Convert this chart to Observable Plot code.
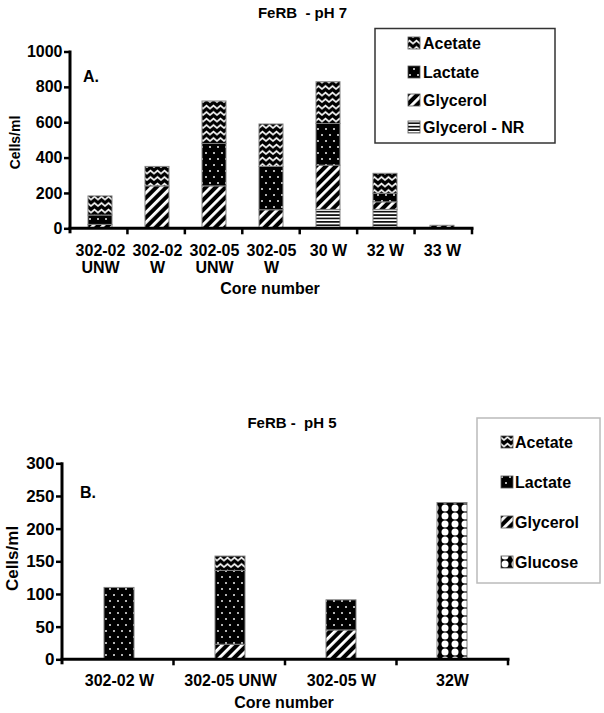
<!DOCTYPE html>
<html><head><meta charset="utf-8">
<script src="https://cdn.jsdelivr.net/npm/d3@7"></script>
<script src="https://cdn.jsdelivr.net/npm/@observablehq/plot@0.6"></script>
<style>
body{margin:0;background:#fff;}
#wrap{position:relative;width:604px;height:713px;overflow:hidden;background:#fff;}
#wrap svg.layer{position:absolute;left:0;}
</style></head><body><div id="wrap"></div>
<script>
// ---------- data: panel A (pH 7) ----------
const coresA = ["302-02 UNW","302-02 W","302-05 UNW","302-05 W","30 W","32 W","33 W"];
const tickLabelsA = ["302-02\nUNW","302-02\nW","302-05\nUNW","302-05\nW","30 W","32 W","33 W"];
const glycerolNRA = [0,0,0,0,107,107,0];
const glycerolA   = [22,240,240,105,250,43,17];
const lactateA    = [53,0,240,245,236,48,0];
const acetateA    = [108,110,240,240,236,113,0];
const yTicksA = [0,200,400,600,800,1000];
const legendA = ["Acetate","Lactate","Glycerol","Glycerol - NR"];

// ---------- data: panel B (pH 5) ----------
const coresB = ["302-02 W","302-05 UNW","302-05 W","32W"];
const glycerolB = [0,23,45,0];
const lactateB  = [110,113,46,0];
const acetateB  = [0,22,0,0];
const glucoseB  = [0,0,0,240];
const yTicksB = [0,50,100,150,200,250,300];
const legendB = ["Acetate","Lactate","Glycerol","Glucose"];

const seriesNames = ["Glycerol - NR","Glycerol","Lactate","Acetate","Glucose"];
const patternIds = {"Glycerol - NR":"p-nr","Glycerol":"p-glycerol","Lactate":"p-lactate","Acetate":"p-acetate","Glucose":"p-glucose"};
const FONT = "'Liberation Sans', Arial, Helvetica, sans-serif";

function rows(cores, series) {
  const out = [];
  for (const [name, vals] of series) cores.forEach((c, i) => { if (vals[i] > 0) out.push({core: c, series: name, value: vals[i]}); });
  return out;
}
const rowsA = rows(coresA, [["Glycerol - NR", glycerolNRA], ["Glycerol", glycerolA], ["Lactate", lactateA], ["Acetate", acetateA]]);
const rowsB = rows(coresB, [["Glycerol", glycerolB], ["Lactate", lactateB], ["Acetate", acetateB], ["Glucose", glucoseB]]);

const wrap = document.getElementById("wrap");

// ---------- fill patterns ----------
const defsSvg = `<svg width="0" height="0" style="position:absolute;left:0;top:0">
<defs>
<pattern id="p-acetate" patternUnits="userSpaceOnUse" width="7" height="6.5">
  <rect width="7" height="6.5" fill="#000"/>
  <polyline points="-3.5,1.6 0,4.6 3.5,1.6 7,4.6 10.5,1.6" fill="none" stroke="#fff" stroke-width="1.6"/>
</pattern>
<pattern id="p-lactate" patternUnits="userSpaceOnUse" width="8" height="12">
  <rect width="8" height="12" fill="#000"/>
  <circle cx="2" cy="3" r="1" fill="#eee"/>
  <circle cx="6" cy="9" r="1" fill="#eee"/>
</pattern>
<pattern id="p-glycerol" patternUnits="userSpaceOnUse" width="7" height="7" patternTransform="rotate(45)">
  <rect width="7" height="7" fill="#000"/>
  <rect width="2.9" height="7" fill="#fff"/>
</pattern>
<pattern id="p-nr" patternUnits="userSpaceOnUse" width="4" height="3.4">
  <rect width="4" height="3.4" fill="#fff"/>
  <rect width="4" height="1.7" fill="#111"/>
</pattern>
<pattern id="p-glucose" patternUnits="userSpaceOnUse" width="10" height="8">
  <rect width="10" height="8" fill="#000"/>
  <circle cx="5" cy="4" r="3.5" fill="#fff"/>
</pattern>
</defs></svg>`;
wrap.insertAdjacentHTML("beforeend", defsSvg);

// axis lines + boundary ticks drawn from the plot's own scales/dimensions
function axisFrame(nCats) {
  return (index, scales, values, dims) => {
    const y = scales.y;
    const x0 = dims.marginLeft, x1 = dims.width - dims.marginRight;
    const y0 = y(0), yTop = dims.marginTop;
    const g = d3.create("svg:g").attr("stroke", "#000").attr("fill", "none");
    g.append("line").attr("x1", x0).attr("x2", x0).attr("y1", yTop - 1).attr("y2", y0 + 5).attr("stroke-width", 3);
    g.append("line").attr("x1", x0 - 1.5).attr("x2", x1 + 1.5).attr("y1", y0).attr("y2", y0).attr("stroke-width", 3);
    const step = (x1 - x0) / nCats;
    for (let i = 1; i <= nCats; i++) {
      g.append("line").attr("x1", x0 + i * step).attr("x2", x0 + i * step).attr("y1", y0).attr("y2", y0 + 6).attr("stroke-width", 2.5);
    }
    return g.node();
  };
}

function panel({cores, labels, data, yDomain, yTicks, top, height, ml, mr, mt, mb, pad, yFont, xPad}) {
  const p = Plot.plot({
    width: 604, height, marginLeft: ml, marginRight: mr, marginTop: mt, marginBottom: mb,
    style: {fontFamily: FONT, fontSize: "16px", fontWeight: "bold", color: "#000", background: "transparent", overflow: "visible"},
    x: {domain: cores, paddingInner: pad, paddingOuter: pad / 2},
    y: {domain: yDomain},
    color: {domain: seriesNames, range: seriesNames.map(s => `url(#${patternIds[s]})`)},
    marks: [
      Plot.barY(data, {x: "core", y: "value", fill: "series", stroke: "#808080", strokeWidth: 1}),
      Plot.axisY({ticks: yTicks, tickFormat: d => String(d), tickSize: 6, tickPadding: 2, strokeWidth: 2.5, fontSize: yFont, fontWeight: "bold", label: null}),
      Plot.axisX({tickSize: 0, tickPadding: xPad, fontSize: 16, fontWeight: "bold", lineHeight: 1.07, label: null,
                  tickFormat: d => labels[cores.indexOf(d)]}),
      axisFrame(cores.length)
    ]
  });
  p.classList.add("layer");
  p.style.top = top + "px";
  p.style.position = "absolute";
  wrap.appendChild(p);
}

panel({cores: coresA, labels: tickLabelsA, data: rowsA, yDomain: [0, 1000], yTicks: yTicksA,
       top: 0, height: 300, ml: 70, mr: 132, mt: 51.5, mb: 71.7, pad: 0.583, yFont: 16, xPad: 15});
panel({cores: coresB, labels: coresB, data: rowsB, yDomain: [0, 300], yTicks: yTicksB,
       top: 400, height: 313, ml: 62, mr: 96, mt: 63.3, mb: 53.7, pad: 0.73, yFont: 17, xPad: 14});

// ---------- overlay: titles, panel letters, axis titles, legends ----------
const ov = d3.select(wrap).append("svg").attr("class", "layer").attr("width", 604).attr("height", 713)
  .style("top", "0px").style("font-family", FONT).style("font-weight", "bold");

function txt(x, y, s, size, anchor = "start") {
  return ov.append("text").attr("x", x).attr("y", y).attr("font-size", size).attr("text-anchor", anchor)
    .attr("fill", "#000").style("white-space", "pre").text(s);
}
txt(302.5, 18, "FeRB  - pH 7", 15, "middle");
txt(83, 82, "A.", 16);
txt(270, 294, "Core number", 16, "middle");
ov.append("text").attr("transform", "translate(15,142.5) rotate(-90)").attr("text-anchor", "middle").attr("dy", "0.35em")
  .attr("font-size", 14).text("Cells/ml");

txt(292, 428, "FeRB -  pH 5", 15, "middle");
txt(80, 498, "B.", 16);
txt(284, 708, "Core number", 16, "middle");
ov.append("text").attr("transform", "translate(12.5,558.5) rotate(-90)").attr("text-anchor", "middle").attr("dy", "0.35em")
  .attr("font-size", 17).text("Cells/ml");

function legend(x, y, w, h, stroke, names, centers, sx, tx) {
  ov.append("rect").attr("x", x).attr("y", y).attr("width", w).attr("height", h)
    .attr("fill", "#fff").attr("stroke", stroke).attr("stroke-width", 1.5);
  names.forEach((n, i) => {
    ov.append("rect").attr("x", sx).attr("y", centers[i] - 6).attr("width", 12).attr("height", 12)
      .attr("fill", `url(#${patternIds[n]})`).attr("stroke", "#555").attr("stroke-width", 0.8);
    txt(tx, centers[i] + 5.7, n, 16);
  });
}
legend(375, 28.5, 180, 114.5, "#333", legendA, [43, 72, 100, 127], 408, 423);
legend(477, 418, 123, 165, "#bbb", legendB, [442, 482, 522, 562], 501, 515);
</script></body></html>
